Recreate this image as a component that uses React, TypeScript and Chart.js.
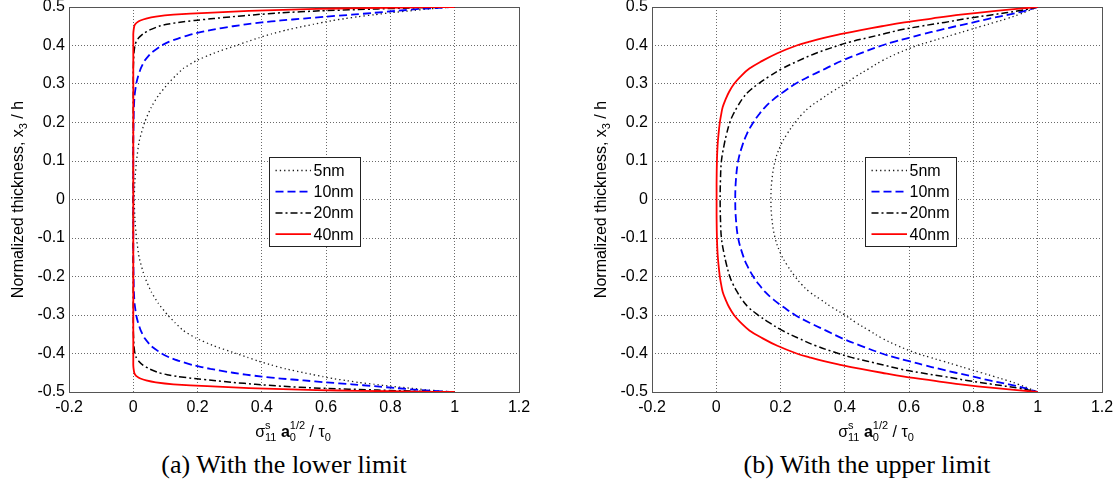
import React, { useEffect, useRef } from 'react';
import { Chart, registerables } from 'chart.js';

Chart.register(...registerables);

// ---------------- data ----------------
const sizeLabels = ['5nm', '10nm', '20nm', '40nm'];

const xTickValues = [-0.2, 0, 0.2, 0.4, 0.6, 0.8, 1, 1.2];
const xTickLabels = ['-0.2', '0', '0.2', '0.4', '0.6', '0.8', '1', '1.2'];
const yTickValues = [0.5, 0.4, 0.3, 0.2, 0.1, 0, -0.1, -0.2, -0.3, -0.4, -0.5];
const yTickLabels = ['0.5', '0.4', '0.3', '0.2', '0.1', '0', '-0.1', '-0.2', '-0.3', '-0.4', '-0.5'];

const captionLower = '(a) With the lower limit';
const captionUpper = '(b) With the upper limit';

// (a) lower limit: normalized thickness x3/h
const thicknessLower = [
  0.5, 0.499, 0.497, 0.495, 0.49, 0.485, 0.48, 0.475, 0.47, 0.465, 0.46, 0.455, 0.45, 0.44, 0.43,
  0.42, 0.41, 0.4, 0.38, 0.36, 0.34, 0.32, 0.3, 0.27, 0.24, 0.2, 0.15, 0.1, 0.05, 0,
  -0.05, -0.1, -0.15, -0.2, -0.24, -0.27, -0.3, -0.32, -0.34, -0.36, -0.38, -0.4, -0.41, -0.42,
  -0.43, -0.44, -0.45, -0.455, -0.46, -0.465, -0.47, -0.475, -0.48, -0.485, -0.49, -0.495, -0.497, -0.499, -0.5,
];
const lower5nm = [
  1, 0.98, 0.95, 0.92, 0.86, 0.8, 0.75, 0.7, 0.66, 0.62, 0.59, 0.56, 0.53, 0.475, 0.43,
  0.39, 0.355, 0.32, 0.25, 0.195, 0.155, 0.13, 0.107, 0.078, 0.056, 0.035, 0.018, 0.01, 0.005, 0.003,
  0.005, 0.01, 0.018, 0.035, 0.056, 0.078, 0.107, 0.13, 0.155, 0.195, 0.25, 0.32, 0.355, 0.39,
  0.43, 0.475, 0.53, 0.56, 0.59, 0.62, 0.66, 0.7, 0.75, 0.8, 0.86, 0.92, 0.95, 0.98, 1,
];
const lower10nm = [
  1, 0.97, 0.93, 0.89, 0.82, 0.75, 0.68, 0.6, 0.53, 0.46, 0.4, 0.35, 0.31, 0.24, 0.185,
  0.145, 0.112, 0.088, 0.055, 0.035, 0.023, 0.015, 0.009, 0.004, 0.002, 0.001, 0, 0, 0, 0,
  0, 0, 0, 0.001, 0.002, 0.004, 0.009, 0.015, 0.023, 0.035, 0.055, 0.088, 0.112, 0.145,
  0.185, 0.24, 0.31, 0.35, 0.4, 0.46, 0.53, 0.6, 0.68, 0.75, 0.82, 0.89, 0.93, 0.97, 1,
];
const lower20nm = [
  1, 0.93, 0.84, 0.76, 0.58, 0.46, 0.38, 0.31, 0.25, 0.19, 0.14, 0.105, 0.08, 0.05, 0.03,
  0.017, 0.009, 0.005, 0.002, 0.001, 0, 0, 0, 0, 0, 0, 0, 0, 0, 0,
  0, 0, 0, 0, 0, 0, 0, 0, 0, 0.001, 0.002, 0.005, 0.009, 0.017,
  0.03, 0.05, 0.08, 0.105, 0.14, 0.19, 0.25, 0.31, 0.38, 0.46, 0.58, 0.76, 0.84, 0.93, 1,
];
const lower40nm = [
  1, 0.88, 0.7, 0.57, 0.36, 0.23, 0.125, 0.07, 0.04, 0.022, 0.012, 0.006, 0.003, 0.001, 0,
  0, 0, 0, 0, 0, 0, 0, 0, 0, 0, 0, 0, 0, 0, 0,
  0, 0, 0, 0, 0, 0, 0, 0, 0, 0, 0, 0, 0, 0,
  0, 0.001, 0.003, 0.006, 0.012, 0.022, 0.04, 0.07, 0.125, 0.23, 0.36, 0.57, 0.7, 0.88, 1,
];

// (b) upper limit
const thicknessUpper = [
  0.5, 0.49, 0.48, 0.47, 0.46, 0.45, 0.44, 0.43, 0.42, 0.41, 0.4, 0.38, 0.36, 0.34, 0.32, 0.3,
  0.28, 0.26, 0.24, 0.22, 0.2, 0.17, 0.14, 0.1, 0.05, 0,
  -0.05, -0.1, -0.14, -0.17, -0.2, -0.22, -0.24, -0.26, -0.28, -0.3, -0.32, -0.34, -0.36, -0.38,
  -0.4, -0.41, -0.42, -0.43, -0.44, -0.45, -0.46, -0.47, -0.48, -0.49, -0.5,
];
const upper5nm = [
  1, 0.97, 0.94, 0.905, 0.865, 0.825, 0.785, 0.745, 0.705, 0.665, 0.625, 0.565, 0.515, 0.475, 0.435, 0.4,
  0.36, 0.325, 0.29, 0.265, 0.245, 0.22, 0.2, 0.183, 0.173, 0.17,
  0.173, 0.183, 0.2, 0.22, 0.245, 0.265, 0.29, 0.325, 0.36, 0.4, 0.435, 0.475, 0.515, 0.565,
  0.625, 0.665, 0.705, 0.745, 0.785, 0.825, 0.865, 0.905, 0.94, 0.97, 1,
];
const upper10nm = [
  1, 0.96, 0.91, 0.85, 0.8, 0.745, 0.695, 0.645, 0.6, 0.555, 0.515, 0.45, 0.39, 0.34, 0.29, 0.245,
  0.21, 0.178, 0.152, 0.132, 0.115, 0.095, 0.081, 0.068, 0.061, 0.059,
  0.061, 0.068, 0.081, 0.095, 0.115, 0.132, 0.152, 0.178, 0.21, 0.245, 0.29, 0.34, 0.39, 0.45,
  0.515, 0.555, 0.6, 0.645, 0.695, 0.745, 0.8, 0.85, 0.91, 0.96, 1,
];
const upper20nm = [
  1, 0.94, 0.86, 0.78, 0.71, 0.635, 0.57, 0.52, 0.47, 0.42, 0.38, 0.31, 0.255, 0.205, 0.165, 0.13,
  0.1, 0.08, 0.065, 0.052, 0.042, 0.032, 0.024, 0.016, 0.013, 0.012,
  0.013, 0.016, 0.024, 0.032, 0.042, 0.052, 0.065, 0.08, 0.1, 0.13, 0.165, 0.205, 0.255, 0.31,
  0.38, 0.42, 0.47, 0.52, 0.57, 0.635, 0.71, 0.78, 0.86, 0.94, 1,
];
const upper40nm = [
  1, 0.87, 0.76, 0.67, 0.585, 0.515, 0.45, 0.39, 0.335, 0.29, 0.25, 0.19, 0.143, 0.103, 0.076, 0.055,
  0.04, 0.029, 0.02, 0.015, 0.011, 0.007, 0.004, 0.002, 0.001, 0.001,
  0.001, 0.002, 0.004, 0.007, 0.011, 0.015, 0.02, 0.029, 0.04, 0.055, 0.076, 0.103, 0.143, 0.19,
  0.25, 0.29, 0.335, 0.39, 0.45, 0.515, 0.585, 0.67, 0.76, 0.87, 1,
];

// ---------------- styles ----------------
const FONT = "'Liberation Sans', Arial, Helvetica, sans-serif";
const SERIF = "'Liberation Serif', 'Times New Roman', Times, serif";
const CANVAS_H = 450;
const PLOT_TOP = 7;
const PLOT_BOTTOM = 392;

const seriesStyles = [
  { color: '#1a1a1a', width: 1.3, dash: [1.3, 3] },
  { color: '#0000ff', width: 1.8, dash: [8, 4] },
  { color: '#000000', width: 1.5, dash: [7, 3, 2, 3] },
  { color: '#ff0000', width: 1.8, dash: [] as number[] },
];

type PanelProps = {
  left: number;
  width: number;
  areaLeft: number;
  areaRight: number;
  legendX: number;
  legendY: number;
  tension: number;
  thickness: number[];
  series: number[][];
};

function Panel({ left, width, areaLeft, areaRight, legendX, legendY, tension, thickness, series }: PanelProps) {
  const ref = useRef<HTMLCanvasElement>(null);

  useEffect(() => {
    const canvas = ref.current;
    if (!canvas) return;

    const decor = {
      id: 'decor',
      beforeDatasetsDraw(chart: any) {
        const { ctx, chartArea: a } = chart;
        ctx.save();
        ctx.strokeStyle = '#555';
        ctx.lineWidth = 1;
        ctx.setLineDash([]);
        ctx.strokeRect(a.left + 0.5, a.top + 0.5, a.right - a.left, a.bottom - a.top);
        ctx.restore();
      },
      afterDatasetsDraw(chart: any) {
        const { ctx, chartArea: a } = chart;
        const bx = Math.round(a.left + legendX);
        const by = Math.round(a.top + legendY);
        const bw = 91;
        const bh = 89;
        ctx.save();
        ctx.fillStyle = '#fff';
        ctx.fillRect(bx, by, bw, bh);
        ctx.strokeStyle = '#222';
        ctx.lineWidth = 1;
        ctx.setLineDash([]);
        ctx.strokeRect(bx + 0.5, by + 0.5, bw, bh);
        chart.data.datasets.forEach((ds: any, i: number) => {
          const cy = by + 13.5 + i * 21.2;
          ctx.save();
          ctx.strokeStyle = ds.borderColor;
          ctx.lineWidth = ds.borderWidth;
          ctx.setLineDash(ds.borderDash || []);
          ctx.beginPath();
          ctx.moveTo(bx + 6.5, cy);
          ctx.lineTo(bx + 42, cy);
          ctx.stroke();
          ctx.restore();
          ctx.fillStyle = '#000';
          ctx.font = `16px ${FONT}`;
          ctx.textAlign = 'left';
          ctx.textBaseline = 'middle';
          ctx.fillText(ds.label, bx + 44.5, cy + 1);
        });
        ctx.restore();
      },
      afterDraw(chart: any) {
        const { ctx, chartArea: a } = chart;
        const main = `16px ${FONT}`;
        const bold = `bold 16px ${FONT}`;
        const small = `11px ${FONT}`;
        ctx.save();
        ctx.fillStyle = '#000';
        ctx.textAlign = 'left';
        ctx.textBaseline = 'alphabetic';

        // y-axis title (rotated)
        const y1 = 'Normalized thickness, x';
        const y2 = '3';
        const y3 = ' / h';
        ctx.font = main;
        const w1 = ctx.measureText(y1).width;
        const w3 = ctx.measureText(y3).width;
        ctx.font = small;
        const w2 = ctx.measureText(y2).width;
        const tot = w1 + w2 + w3;
        ctx.save();
        ctx.translate(a.left - 52.5, (a.top + a.bottom) / 2);
        ctx.rotate(-Math.PI / 2);
        let x = -tot / 2;
        const yb = 6;
        ctx.font = main;
        ctx.fillText(y1, x, yb);
        x += w1;
        ctx.font = small;
        ctx.fillText(y2, x, yb + 4);
        x += w2;
        ctx.font = main;
        ctx.fillText(y3, x, yb);
        ctx.restore();

        // x-axis title: sigma^s_11 a_0^{1/2} / tau_0
        type Run = { t: string; f: string; dy: number };
        const groups: Run[][] = [
          [{ t: 'σ', f: main, dy: 0 }],
          [{ t: 's', f: small, dy: -8 }, { t: '11', f: small, dy: 4 }],
          [{ t: ' ', f: main, dy: 0 }],
          [{ t: 'a', f: bold, dy: 0 }],
          [{ t: '1/2', f: small, dy: -8 }, { t: '0', f: small, dy: 4 }],
          [{ t: ' / ', f: main, dy: 0 }],
          [{ t: 'τ', f: main, dy: 0 }],
          [{ t: '0', f: small, dy: 4 }],
        ];
        const widths = groups.map((g) =>
          Math.max(
            ...g.map((r) => {
              ctx.font = r.f;
              return ctx.measureText(r.t).width;
            })
          )
        );
        const total = widths.reduce((s, w) => s + w, 0);
        let gx = (a.left + a.right) / 2 - 1 - total / 2;
        const base = 437;
        groups.forEach((g, i) => {
          g.forEach((r) => {
            ctx.font = r.f;
            ctx.fillText(r.t, gx, base + r.dy);
          });
          gx += widths[i];
        });
        ctx.restore();
      },
    };

    const chart = new Chart(canvas, {
      type: 'scatter',
      data: {
        datasets: series.map((vals, i) => ({
          label: sizeLabels[i],
          data: vals.map((v, j) => ({ x: v, y: thickness[j] })),
          showLine: true,
          pointRadius: 0,
          pointHoverRadius: 0,
          borderColor: seriesStyles[i].color,
          backgroundColor: seriesStyles[i].color,
          borderWidth: seriesStyles[i].width,
          borderDash: seriesStyles[i].dash,
          borderCapStyle: 'butt',
          borderJoinStyle: 'round',
          fill: false,
          tension,
          order: 4 - i,
        })),
      },
      options: {
        responsive: false,
        animation: false,
        events: [],
        layout: { padding: { left: 0, top: PLOT_TOP, right: width - areaRight, bottom: 0 } },
        plugins: {
          legend: { display: false },
          tooltip: { enabled: false },
          title: { display: false },
        },
        scales: {
          x: {
            type: 'linear',
            position: 'bottom',
            min: -0.2,
            max: 1.2,
            afterBuildTicks: (s: any) => {
              s.ticks = xTickValues.map((v) => ({ value: v }));
            },
            afterFit: (s: any) => {
              s.height = CANVAS_H - PLOT_BOTTOM;
              s.paddingLeft = 0;
              s.paddingRight = 0;
            },
            ticks: {
              autoSkip: false,
              maxRotation: 0,
              padding: 6,
              color: '#000',
              font: { family: FONT, size: 16 },
              callback: (_v: any, i: number) => xTickLabels[i],
            },
            grid: { color: '#6a6a6a', lineWidth: 1, drawTicks: false },
            border: { display: false, dash: [1, 2] },
          },
          y: {
            type: 'linear',
            position: 'left',
            min: -0.5,
            max: 0.5,
            afterBuildTicks: (s: any) => {
              s.ticks = yTickValues.map((v) => ({ value: v }));
            },
            afterFit: (s: any) => {
              s.width = areaLeft;
              s.paddingTop = 0;
              s.paddingBottom = 0;
            },
            ticks: {
              autoSkip: false,
              padding: 4,
              color: '#000',
              font: { family: FONT, size: 16 },
              callback: (_v: any, i: number) => yTickLabels[i],
            },
            grid: { color: '#6a6a6a', lineWidth: 1, drawTicks: false },
            border: { display: false, dash: [1, 2] },
          },
        },
      } as any,
      plugins: [decor],
    });

    return () => chart.destroy();
  }, []);

  return (
    <canvas
      ref={ref}
      width={width}
      height={CANVAS_H}
      style={{ position: 'absolute', left, top: 0, width, height: CANVAS_H }}
    />
  );
}

function Caption({ text, center }: { text: string; center: number }) {
  return (
    <div
      style={{
        position: 'absolute',
        left: center - 200,
        top: 450,
        width: 400,
        textAlign: 'center',
        fontFamily: SERIF,
        fontSize: 26,
        lineHeight: '30px',
        color: '#000',
        whiteSpace: 'nowrap',
      }}
    >
      {text}
    </div>
  );
}

export default function App() {
  return (
    <div
      style={{
        position: 'absolute',
        left: 0,
        top: 0,
        width: 1118,
        height: 486,
        background: '#fff',
        overflow: 'hidden',
      }}
    >
      <Panel
        left={0}
        width={560}
        areaLeft={69}
        areaRight={519}
        legendX={200}
        legendY={150}
        tension={0.15}
        thickness={thicknessLower}
        series={[lower5nm, lower10nm, lower20nm, lower40nm]}
      />
      <Panel
        left={560}
        width={558}
        areaLeft={92}
        areaRight={542}
        legendX={213}
        legendY={150}
        tension={0.4}
        thickness={thicknessUpper}
        series={[upper5nm, upper10nm, upper20nm, upper40nm]}
      />
      <Caption text={captionLower} center={284} />
      <Caption text={captionUpper} center={867} />
    </div>
  );
}
